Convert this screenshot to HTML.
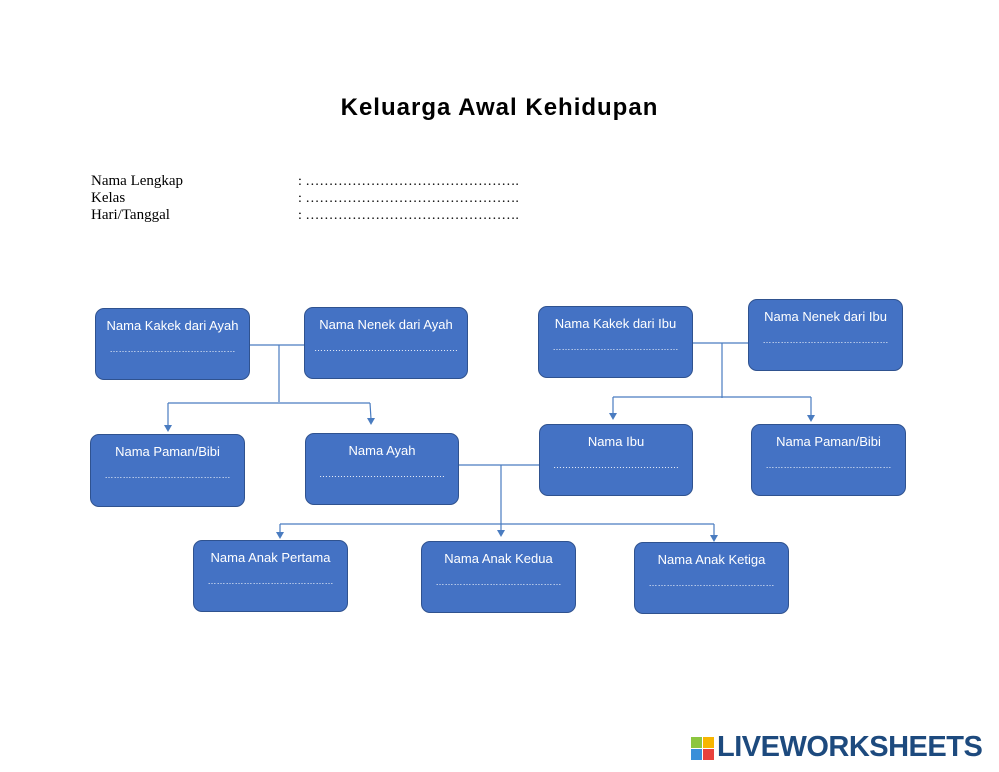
<!DOCTYPE html><html><head><style>
body{margin:0;width:999px;height:772px;background:#fff;position:relative;overflow:hidden;font-family:"Liberation Sans",sans-serif}
.b{position:absolute;width:153px;height:70px;background:#4472c4;border:1.5px solid #2f528f;border-radius:9px;color:#fff;font-size:13px;text-align:center;box-sizing:border-box}
.b .t{margin-top:9px}.b .d{margin-top:11px;font-size:9px;letter-spacing:0;line-height:10px}
.f{position:absolute;left:91px;font-family:"Liberation Serif",serif;font-size:15px;line-height:17px}
</style></head><body>
<div style="position:absolute;left:0;width:999px;top:94px;text-align:center;font-weight:bold;font-size:24px;letter-spacing:1px">Keluarga Awal Kehidupan</div>
<div class="f" style="top:173px">Nama Lengkap<br>Kelas<br>Hari/Tanggal</div>
<div class="f" style="top:173px;left:298px;font-size:14px">: ……………………………………….<br>: ……………………………………….<br>: ……………………………………….</div>
<div class="b" style="left:95px;top:308px;width:155px;height:72px"><div class="t">Nama Kakek dari Ayah</div><div class="d">……………………………………</div></div>
<div class="b" style="left:304px;top:307px;width:164px;height:72px"><div class="t">Nama Nenek dari Ayah</div><div class="d">…………………………………………</div></div>
<div class="b" style="left:538px;top:306px;width:155px;height:72px"><div class="t">Nama Kakek dari Ibu</div><div class="d">……………………………………</div></div>
<div class="b" style="left:748px;top:299px;width:155px;height:72px"><div class="t">Nama Nenek dari Ibu</div><div class="d">……………………………………</div></div>
<div class="b" style="left:90px;top:434px;width:155px;height:73px"><div class="t">Nama Paman/Bibi</div><div class="d">……………………………………</div></div>
<div class="b" style="left:305px;top:433px;width:154px;height:72px"><div class="t">Nama Ayah</div><div class="d">……………………………………</div></div>
<div class="b" style="left:539px;top:424px;width:154px;height:72px"><div class="t">Nama Ibu</div><div class="d">……………………………………</div></div>
<div class="b" style="left:751px;top:424px;width:155px;height:72px"><div class="t">Nama Paman/Bibi</div><div class="d">……………………………………</div></div>
<div class="b" style="left:193px;top:540px;width:155px;height:72px"><div class="t">Nama Anak Pertama</div><div class="d">……………………………………</div></div>
<div class="b" style="left:421px;top:541px;width:155px;height:72px"><div class="t">Nama Anak Kedua</div><div class="d">……………………………………</div></div>
<div class="b" style="left:634px;top:542px;width:155px;height:72px"><div class="t">Nama Anak Ketiga</div><div class="d">……………………………………</div></div>
<svg width="999" height="772" style="position:absolute;left:0;top:0" fill="none" stroke="#4a7cc0" stroke-width="1.2">
<path d="M250 345H304M279 345V402M168 403H370M168 403V426M370 403L371 419"/>
<path d="M693 343H748M722 343V398M613 397H811M613 397V414M811 397V416"/>
<path d="M459 465H539M501 465V531M280 524H714M280 524V533M714 524V536"/>
<g fill="#4a7cc0" stroke="none">
<path d="M164 425h8l-4 7z"/><path d="M367 418h8l-4 7z"/>
<path d="M609 413h8l-4 7z"/><path d="M807 415h8l-4 7z"/>
<path d="M497 530h8l-4 7z"/><path d="M276 532h8l-4 7z"/><path d="M710 535h8l-4 7z"/>
</g></svg>
<div style="position:absolute;left:691px;top:737px;width:24px;height:24px">
<div style="position:absolute;left:0;top:0;width:11px;height:11px;background:#8cc63f"></div>
<div style="position:absolute;left:12px;top:0;width:11px;height:11px;background:#f7b500"></div>
<div style="position:absolute;left:0;top:12px;width:11px;height:11px;background:#3a8fd9"></div>
<div style="position:absolute;left:12px;top:12px;width:11px;height:11px;background:#e8413c"></div></div>
<div style="position:absolute;left:717px;top:731px;font-weight:bold;font-size:29px;color:#1d4a7e;letter-spacing:-0.5px">LIVEWORKSHEETS</div>
</body></html>
